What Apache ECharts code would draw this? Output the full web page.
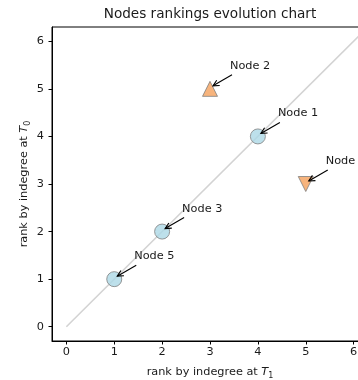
<!DOCTYPE html>
<html>
<head>
<meta charset="utf-8">
<script src="https://cdn.jsdelivr.net/npm/echarts@6/dist/echarts.min.js"></script>
<style>
  html, body { margin: 0; padding: 0; background: #fff; }
  #chart { width: 358px; height: 380px; }
</style>
</head>
<body>
<div id="chart"></div>
<script>
// Node rankings at two snapshots
const nodeNames = ['Node 1', 'Node 2', 'Node 3', 'Node 4', 'Node 5'];
const rankT1 = [4, 3, 2, 5, 1];
const rankT0 = [4, 5, 2, 3, 1];
const tickValues = [0, 1, 2, 3, 4, 5, 6];
const diagonalX = [0, 7];
const diagonalY = [0, 7];

const FONT = '"DejaVu Sans", "Liberation Sans", sans-serif';
const TEXT = '#1a1a1a';

// marker style depends on whether the rank went up, down or stayed
function nodeMarker(i) {
  const up = rankT0[i] > rankT1[i];
  const down = rankT0[i] < rankT1[i];
  if (!up && !down) {
    return { value: [rankT1[i], rankT0[i]], symbol: 'circle',
      itemStyle: { color: '#add8e6', borderColor: '#808080', borderWidth: 1 } };
  }
  return { value: [rankT1[i], rankT0[i]], symbol: 'triangle', symbolRotate: down ? 180 : 0,
    itemStyle: { color: '#f5a15c', borderColor: '#808080', borderWidth: 1 } };
}

const nameRich = {
  it: { fontFamily: FONT, fontStyle: 'italic', fontSize: 11.3, color: TEXT },
  sub: { fontFamily: FONT, fontSize: 8, color: TEXT, padding: [7, 0, 0, 0] }
};

function axisCommon(extra) {
  return Object.assign({
    type: 'value', min: -0.3, max: 6.3,
    splitLine: { show: false },
    axisLine: { show: true, onZero: false, lineStyle: { color: '#000', width: 1 } },
    axisTick: { show: true, length: 3.5, customValues: tickValues, lineStyle: { color: '#000', width: 1 } },
    axisLabel: { customValues: tickValues, fontFamily: FONT, fontSize: 11.3, color: TEXT },
    nameLocation: 'middle',
    nameTextStyle: { fontFamily: FONT, fontSize: 11.3, color: TEXT, rich: nameRich }
  }, extra);
}

const chart = echarts.init(document.getElementById('chart'), null, { renderer: 'canvas' });

chart.setOption({
  animation: false,
  backgroundColor: '#fff',
  graphic: [{
    type: 'text', x: 210, y: 14,
    style: { text: 'Nodes rankings evolution chart', fontFamily: FONT, fontSize: 13.6,
      fill: TEXT, align: 'center', verticalAlign: 'middle' }
  }],
  // the plot area runs past the right edge of the page
  grid: { left: 52, top: 27, width: 316, height: 314, show: true,
    outerBoundsMode: 'none', containLabel: false,
    borderColor: '#000', borderWidth: 1, backgroundColor: 'transparent' },
  xAxis: axisCommon({
    name: 'rank by indegree at {it|T}{sub|1}', nameGap: 24,
    axisLabel: { customValues: tickValues, fontFamily: FONT, fontSize: 11.3, color: TEXT, margin: 6 }
  }),
  yAxis: axisCommon({
    name: 'rank by indegree at {it|T}{sub|0}', nameGap: 20, nameMoveOverlap: false,
    axisLabel: { customValues: tickValues, fontFamily: FONT, fontSize: 11.3, color: TEXT, margin: 8 }
  }),
  series: [
    {
      type: 'line', z: 1, silent: true, symbol: 'none', clip: true,
      data: diagonalX.map((x, i) => [x, diagonalY[i]]),
      lineStyle: { color: '#d3d3d3', width: 1.6 }
    },
    {
      type: 'scatter', z: 2, symbolSize: 15,
      data: nodeNames.map((_, i) => nodeMarker(i))
    },
    {
      type: 'custom', z: 3, silent: true,
      data: nodeNames.map((_, i) => [rankT1[i], rankT0[i]]),
      renderItem(params, api) {
        const p = api.coord([api.value(0), api.value(1)]);
        const tail = [p[0] + 22, p[1] - 14];
        const tip = [p[0] + 3, p[1] - 3];
        const ang = Math.atan2(tip[1] - tail[1], tip[0] - tail[0]);
        const hl = 6, hw = 3;
        const bx = tip[0] - hl * Math.cos(ang), by = tip[1] - hl * Math.sin(ang);
        const nx = -Math.sin(ang), ny = Math.cos(ang);
        return {
          type: 'group',
          children: [
            { type: 'line', shape: { x1: tail[0], y1: tail[1], x2: tip[0], y2: tip[1] },
              style: { stroke: '#000', lineWidth: 1.1 } },
            { type: 'polyline',
              shape: { points: [[bx + nx * hw, by + ny * hw], tip, [bx - nx * hw, by - ny * hw]] },
              style: { stroke: '#000', fill: null, lineWidth: 1.1 } },
            { type: 'text', x: p[0] + 20, y: p[1] - 23,
              style: { text: nodeNames[params.dataIndex], fontFamily: FONT, fontSize: 11.3,
                fill: TEXT, align: 'left', verticalAlign: 'middle' } }
          ]
        };
      }
    }
  ]
});
</script>
</body>
</html>
